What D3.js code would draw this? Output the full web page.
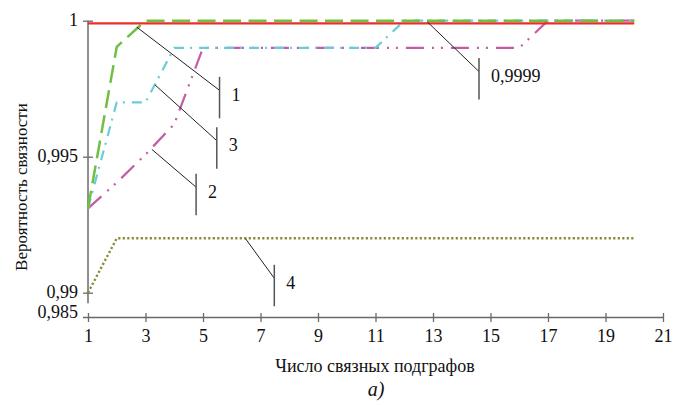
<!DOCTYPE html>
<html>
<head>
<meta charset="UTF-8">
<script src="https://cdnjs.cloudflare.com/ajax/libs/d3/7.8.5/d3.min.js"></script>
<style>
  body { margin: 0; }
  svg, svg text { font-family: "Liberation Serif", "Times New Roman", Times, serif !important; }
</style>
</head>
<body>
<svg width="675" height="405" font-family="Liberation Serif, serif"></svg>
<script>
  // число связных подграфов
  var xs = d3.range(1, 21);
  var xTicks = [1, 3, 5, 7, 9, 11, 13, 15, 17, 19, 21];
  var yTicks = [0.99, 0.995, 1];
  var yBreakLabel = 0.985; // подпись у разрыва оси

  var s1 = [0.9931, 0.99904, 1, 1, 1, 1, 1, 1, 1, 1, 1, 1, 1, 1, 1, 1, 1, 1, 1, 1];
  var s2 = [0.9931, 0.99405, 0.99508, 0.9962, 0.999, 0.999, 0.999, 0.999, 0.999, 0.999, 0.999, 0.999, 0.999, 0.999, 0.999, 0.999, 1, 1, 1, 1];
  var s3 = [0.9931, 0.997, 0.997, 0.999, 0.999, 0.999, 0.999, 0.999, 0.999, 0.999, 0.999, 1, 1, 1, 1, 1, 1, 1, 1, 1];
  var s4 = [0.99, 0.992, 0.992, 0.992, 0.992, 0.992, 0.992, 0.992, 0.992, 0.992, 0.992, 0.992, 0.992, 0.992, 0.992, 0.992, 0.992, 0.992, 0.992, 0.992];
  var s9999 = [0.9999, 0.9999, 0.9999, 0.9999, 0.9999, 0.9999, 0.9999, 0.9999, 0.9999, 0.9999, 0.9999, 0.9999, 0.9999, 0.9999, 0.9999, 0.9999, 0.9999, 0.9999, 0.9999, 0.9999];

  // выноски: точка на кривой -> конец у вертикальной черты
  var callouts = [
    { label: "1", ax: 2.70, ay: 0.99976, bx: 5.575, by: 0.99744 },
    { label: "3", ax: 3.33, ay: 0.99764, bx: 5.48, by: 0.99559 },
    { label: "2", ax: 3.22, ay: 0.99527, bx: 4.76, by: 0.99388 },
    { label: "4", ax: 6.47, ay: 0.9920, bx: 7.48, by: 0.99053 },
    { label: "0,9999", ax: 12.80, ay: 0.99996, bx: 14.60, by: 0.99813 }
  ];

  var svg = d3.select("svg"),
    margin = { top: 20.7, left: 88, right: 12, bottom: 87.5 },
    width = +svg.attr("width") - margin.left - margin.right,
    height = +svg.attr("height") - margin.top - margin.bottom,
    g = svg.append("g").attr("transform", "translate(" + margin.left + "," + margin.top + ")");

  var x = d3.scaleLinear().domain([1, 21]).range([0, width]);
  var y = d3.scaleLinear().domain([0.99, 1]).range([272, 0]);

  var ru = d3.formatLocale({ decimal: ",", thousands: " ", grouping: [3], currency: ["", ""] });
  var fmt = ru.format("~r");

  var axisColor = "#6a6a6a";

  // ось X
  var xAxis = g.append("g")
    .attr("transform", "translate(0," + height + ")")
    .call(d3.axisBottom(x).tickValues(xTicks).tickFormat(d3.format("d")).tickSizeOuter(0))
    .attr("font-family", null).attr("font-size", null);
  xAxis.select(".domain").remove();
  xAxis.selectAll(".tick line").attr("y1", -4.5).attr("y2", 4.5).attr("stroke", axisColor).attr("stroke-width", 1.3);
  xAxis.selectAll(".tick text").attr("y", 12).attr("fill", "#111");
  xAxis.append("line").attr("x1", -5).attr("x2", width).attr("stroke", axisColor).attr("stroke-width", 1.5);

  // ось Y (с разрывом внизу)
  var yAxis = g.append("g")
    .call(d3.axisLeft(y).tickValues(yTicks).tickFormat(fmt).tickSizeOuter(0))
    .attr("font-family", null).attr("font-size", null);
  yAxis.select(".domain").remove();
  yAxis.selectAll(".tick line").attr("x1", -5).attr("x2", 5).attr("stroke", axisColor).attr("stroke-width", 1.3);
  yAxis.selectAll(".tick text").attr("x", -10).attr("dy", "0.28em").attr("fill", "#111");
  yAxis.append("line").attr("y1", y(1)).attr("y2", y(0.99) + 10.6)
    .attr("stroke", axisColor).attr("stroke-width", 1.5);
  yAxis.append("text")
    .attr("x", -10).attr("y", height - 5).attr("dy", "0.28em")
    .attr("text-anchor", "end").attr("fill", "#111")
    .text(fmt(yBreakLabel));

  // кривые
  var line = d3.line().x(function (d, i) { return x(xs[i]); }).y(function (d) { return y(d); });

  var series = [
    { data: s4, color: "#8c8a36", width: 2.4, dash: "2.2,2.3" },
    { data: s2, color: "#c65aa6", width: 2.2, dash: "18,8,2,7,2,8" },
    { data: s3, color: "#6ccbdb", width: 2.2, dash: "10,6,2,7" },
    { data: s1, color: "#6fbf45", width: 2.5, dash: "18,7.5" },
    { data: s9999, color: "#e8302a", width: 2.4, dash: null }
  ];

  g.selectAll(".series")
    .data(series)
    .enter().append("path")
    .attr("class", "series")
    .attr("fill", "none")
    .attr("stroke", function (d) { return d.color; })
    .attr("stroke-width", function (d) { return d.width; })
    .attr("stroke-dasharray", function (d) { return d.dash; })
    .attr("d", function (d) { return line(d.data); });

  // выноски
  var co = g.selectAll(".callout").data(callouts).enter().append("g").attr("class", "callout");
  co.append("line")
    .attr("x1", function (d) { return x(d.ax); }).attr("y1", function (d) { return y(d.ay); })
    .attr("x2", function (d) { return x(d.bx); }).attr("y2", function (d) { return y(d.by); })
    .attr("stroke", "#222").attr("stroke-width", 1);
  co.append("line")
    .attr("x1", function (d) { return x(d.bx); }).attr("x2", function (d) { return x(d.bx); })
    .attr("y1", function (d) { return y(d.by) - 13.5; }).attr("y2", function (d) { return y(d.by) + 28; })
    .attr("stroke", "#555").attr("stroke-width", 1.5);
  co.append("text")
    .attr("x", function (d) { return x(d.bx) + 12; })
    .attr("y", function (d) { return y(d.by) + 4.5; })
    .attr("dy", "0.33em").attr("fill", "#111")
    .text(function (d) { return d.label; });

  // подписи осей
  svg.append("text")
    .attr("class", "ytitle")
    .attr("transform", "translate(27,187) rotate(-90)")
    .attr("text-anchor", "middle").attr("fill", "#111")
    .text("Вероятность связности");
  svg.append("text")
    .attr("class", "xtitle")
    .attr("x", 375).attr("y", 372)
    .attr("text-anchor", "middle").attr("fill", "#111")
    .text("Число связных подграфов");
  svg.append("text")
    .attr("class", "sub")
    .attr("x", 376).attr("y", 396)
    .attr("text-anchor", "middle").attr("fill", "#111")
    .attr("font-style", "italic")
    .text("а)");

  svg.selectAll("text").attr("font-size", 18);
  svg.select(".ytitle").attr("font-size", 17);
  svg.select(".sub").attr("font-size", 20);
</script>
</body>
</html>
